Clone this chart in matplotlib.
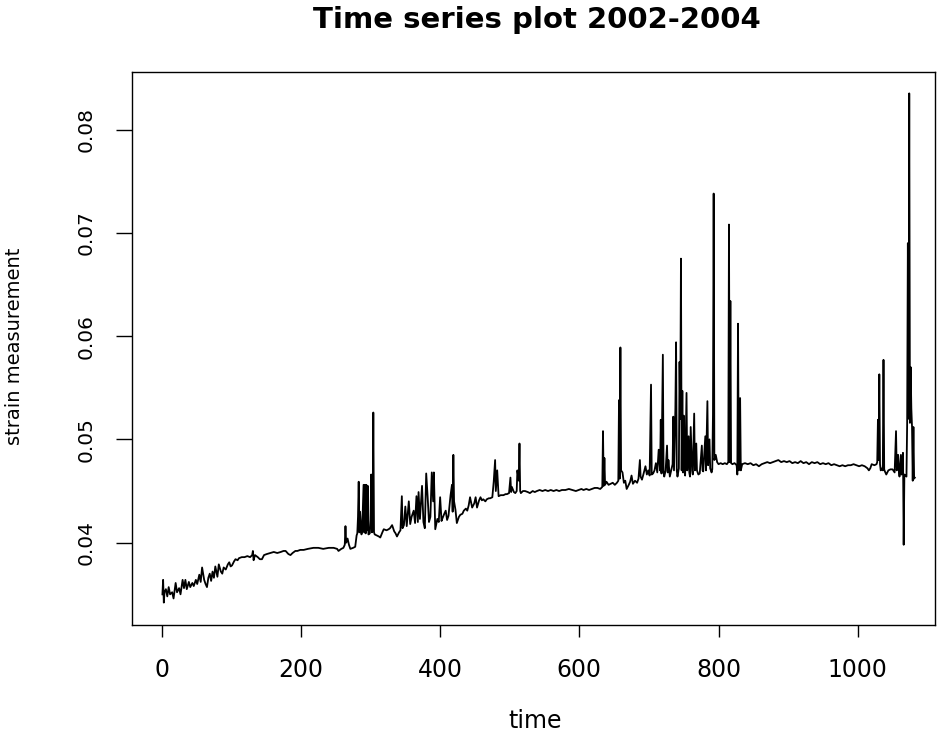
import numpy as np
import matplotlib
matplotlib.use("Agg")
import matplotlib.pyplot as plt

# values, split by stretch of the record

# 0 - 200: noisy start, slow rise
t_start = [1, 2, 3, 4, 6, 8, 10, 12, 15, 17, 20, 22, 25, 27, 30, 32, 34, 36,
           39, 41, 44, 46, 49, 51, 54, 56, 58, 61, 63, 65, 67, 69, 71, 73,
           75, 77, 80, 82, 85, 87, 89, 92, 95, 97, 99, 101, 104, 106, 109,
           111, 115, 119, 123, 127, 130, 131, 132, 134, 138, 141, 144, 147,
           151, 156, 161, 166, 171, 175, 178, 182, 185, 188, 192, 195, 199]
s_start = [0.0350, 0.0364, 0.0342, 0.0352, 0.0355, 0.0348, 0.0357, 0.0350,
           0.0352, 0.0346, 0.0361, 0.0352, 0.0356, 0.0350, 0.0364, 0.0356,
           0.0364, 0.0355, 0.0362, 0.0357, 0.0361, 0.0358, 0.0364, 0.0360,
           0.0369, 0.0362, 0.0376, 0.0364, 0.0360, 0.0357, 0.0366, 0.0370,
           0.0363, 0.0372, 0.0366, 0.0377, 0.0367, 0.0379, 0.0372, 0.0370,
           0.0376, 0.0374, 0.0379, 0.0381, 0.0377, 0.0378, 0.0382, 0.0384,
           0.0383, 0.0385, 0.0386, 0.0386, 0.0387, 0.0386, 0.0388, 0.0392,
           0.0383, 0.0388, 0.0386, 0.0384, 0.0384, 0.0388, 0.0389, 0.0390,
           0.0391, 0.0390, 0.0391, 0.0392, 0.0392, 0.0389, 0.0388, 0.0390,
           0.0392, 0.0392, 0.0393]

# 200 - 400: flat, then first burst of spikes
t_mid1 = [204, 210, 218, 225, 232, 240, 247, 252, 254, 258, 261, 263, 264,
          265, 267, 269, 271, 275, 278, 280, 281, 282, 283, 284, 285, 287,
          288, 290, 291, 292, 293, 294, 295, 296, 297, 299, 300, 301, 302,
          303, 304, 305, 306, 309, 312, 314, 317, 319, 323, 326, 328, 331,
          334, 336, 338, 341, 343, 345, 346, 348, 350, 352, 355, 357, 359,
          362, 364, 366, 368, 369, 371, 374, 376, 378, 380, 382, 384, 386,
          388, 390, 391, 393, 396, 398]
s_mid1 = [0.0393, 0.0394, 0.0395, 0.0395, 0.0394, 0.0395, 0.0395, 0.0394,
          0.0392, 0.0394, 0.0395, 0.0398, 0.0416, 0.0400, 0.0404, 0.0398,
          0.0394, 0.0395, 0.0396, 0.0407, 0.0409, 0.0425, 0.0459, 0.0410,
          0.0430, 0.0408, 0.0412, 0.0456, 0.0410, 0.0456, 0.0409, 0.0456,
          0.0412, 0.0455, 0.0408, 0.0409, 0.0422, 0.0466, 0.0410, 0.0412,
          0.0526, 0.0410, 0.0408, 0.0407, 0.0406, 0.0405, 0.0410, 0.0413,
          0.0412, 0.0413, 0.0414, 0.0417, 0.0411, 0.0409, 0.0406, 0.0410,
          0.0412, 0.0445, 0.0414, 0.0417, 0.0435, 0.0416, 0.0440, 0.0418,
          0.0425, 0.0431, 0.0419, 0.0445, 0.0420, 0.0449, 0.0423, 0.0455,
          0.0420, 0.0414, 0.0467, 0.0445, 0.0420, 0.0425, 0.0468, 0.0440,
          0.0468, 0.0413, 0.0423, 0.0420]

# 400 - 600: climb to the middle plateau
t_mid2 = [400, 402, 403, 406, 408, 410, 412, 415, 417, 418, 419, 420, 422,
          424, 427, 429, 432, 434, 437, 439, 441, 443, 446, 449, 451, 453,
          456, 458, 460, 462, 465, 467, 470, 472, 475, 477, 479, 480, 482,
          484, 487, 491, 494, 496, 499, 501, 502, 503, 506, 508, 510, 511,
          513, 514, 515, 516, 519, 522, 526, 529, 533, 536, 539, 543, 547,
          551, 555, 559, 563, 567, 571, 575, 580, 585, 590, 595, 599]
s_mid2 = [0.0444, 0.0421, 0.0423, 0.0428, 0.0431, 0.0422, 0.0426, 0.0446,
          0.0456, 0.0430, 0.0485, 0.0440, 0.0432, 0.0419, 0.0425, 0.0427,
          0.0428, 0.0431, 0.0433, 0.0431, 0.0436, 0.0444, 0.0434, 0.0438,
          0.0444, 0.0434, 0.0441, 0.0444, 0.0441, 0.0442, 0.0440, 0.0442,
          0.0443, 0.0443, 0.0444, 0.0459, 0.0480, 0.0450, 0.0470, 0.0445,
          0.0446, 0.0446, 0.0447, 0.0447, 0.0448, 0.0463, 0.0449, 0.0454,
          0.0449, 0.0448, 0.0450, 0.0470, 0.0460, 0.0496, 0.0450, 0.0448,
          0.0450, 0.0450, 0.0449, 0.0448, 0.0450, 0.0449, 0.0450, 0.0451,
          0.0450, 0.0451, 0.0450, 0.0451, 0.0450, 0.0451, 0.0450, 0.0451,
          0.0451, 0.0452, 0.0451, 0.0450, 0.0451]

# 600 - 835: big spike cluster
t_burst = [603, 606, 610, 614, 618, 622, 626, 630, 633, 634, 635, 636, 637,
           639, 642, 645, 648, 651, 654, 656, 657, 658, 659, 660, 662, 664,
           666, 668, 671, 673, 675, 677, 680, 683, 685, 687, 688, 690, 692,
           695, 697, 699, 701, 703, 704, 706, 708, 710, 712, 714, 716, 717,
           718, 720, 721, 722, 724, 726, 727, 728, 730, 732, 734, 735, 736,
           738, 739, 740, 741, 743, 744, 745, 746, 747, 748, 749, 750, 751,
           752, 754, 755, 757, 758, 759, 760, 762, 763, 765, 766, 768, 769,
           771, 773, 776, 777, 778, 781, 782, 784, 785, 787, 788, 790, 791,
           792, 793, 794, 796, 798, 800, 803, 806, 809, 812, 814, 815, 816,
           817, 818, 820, 823, 826, 827, 828, 829, 830, 831, 832, 834]
s_burst = [0.0452, 0.0451, 0.0452, 0.0451, 0.0452, 0.0453, 0.0453, 0.0452,
           0.0454, 0.0508, 0.0455, 0.0482, 0.0456, 0.0459, 0.0456, 0.0457,
           0.0458, 0.0456, 0.0458, 0.0460, 0.0538, 0.0462, 0.0589, 0.0470,
           0.0468, 0.0458, 0.0460, 0.0452, 0.0456, 0.0459, 0.0465, 0.0457,
           0.0460, 0.0458, 0.0462, 0.0480, 0.0464, 0.0461, 0.0466, 0.0474,
           0.0466, 0.0470, 0.0465, 0.0553, 0.0466, 0.0467, 0.0470, 0.0477,
           0.0468, 0.0490, 0.0470, 0.0519, 0.0467, 0.0582, 0.0468, 0.0464,
           0.0470, 0.0494, 0.0468, 0.0480, 0.0464, 0.0470, 0.0476, 0.0522,
           0.0470, 0.0530, 0.0594, 0.0470, 0.0464, 0.0472, 0.0575, 0.0520,
           0.0675, 0.0470, 0.0547, 0.0468, 0.0523, 0.0470, 0.0465, 0.0545,
           0.0470, 0.0503, 0.0468, 0.0464, 0.0512, 0.0470, 0.0466, 0.0525,
           0.0470, 0.0496, 0.0470, 0.0466, 0.0467, 0.0494, 0.0470, 0.0469,
           0.0503, 0.0470, 0.0537, 0.0475, 0.0500, 0.0472, 0.0468, 0.0471,
           0.0524, 0.0738, 0.0480, 0.0485, 0.0478, 0.0476, 0.0477, 0.0476,
           0.0477, 0.0476, 0.0478, 0.0708, 0.0478, 0.0634, 0.0477, 0.0476,
           0.0477, 0.0475, 0.0466, 0.0612, 0.0470, 0.0476, 0.0540, 0.0470,
           0.0476]

# 835 - end: flat top, spikes at the very end
t_end = [838, 842, 846, 850, 854, 858, 862, 866, 870, 874, 878, 882, 886,
         890, 894, 898, 902, 906, 910, 914, 918, 922, 926, 930, 934, 938,
         942, 946, 950, 954, 958, 962, 966, 970, 974, 978, 982, 986, 990,
         994, 998, 1002, 1006, 1010, 1014, 1016, 1018, 1020, 1024, 1027,
         1028, 1029, 1030, 1031, 1032, 1033, 1035, 1036, 1037, 1038, 1039,
         1041, 1044, 1047, 1050, 1053, 1055, 1056, 1057, 1058, 1059, 1060,
         1062, 1063, 1065, 1066, 1067, 1068, 1070, 1071, 1072, 1073, 1074,
         1075, 1076, 1077, 1078, 1079, 1080, 1081, 1082]
s_end = [0.0477, 0.0476, 0.0477, 0.0475, 0.0476, 0.0474, 0.0476, 0.0477,
         0.0478, 0.0477, 0.0478, 0.0479, 0.0480, 0.0478, 0.0479, 0.0478,
         0.0479, 0.0477, 0.0478, 0.0477, 0.0479, 0.0477, 0.0478, 0.0476,
         0.0478, 0.0477, 0.0478, 0.0476, 0.0477, 0.0476, 0.0477, 0.0475,
         0.0476, 0.0475, 0.0474, 0.0475, 0.0474, 0.0475, 0.0475, 0.0476,
         0.0475, 0.0474, 0.0475, 0.0474, 0.0472, 0.0470, 0.0472, 0.0476,
         0.0475, 0.0476, 0.0478, 0.0519, 0.0480, 0.0563, 0.0476, 0.0470,
         0.0472, 0.0470, 0.0577, 0.0471, 0.0469, 0.0466, 0.0470, 0.0471,
         0.0471, 0.0468, 0.0508, 0.0470, 0.0476, 0.0485, 0.0470, 0.0464,
         0.0485, 0.0466, 0.0487, 0.0398, 0.0466, 0.0465, 0.0464, 0.0516,
         0.0690, 0.0520, 0.0835, 0.0516, 0.0570, 0.0530, 0.0512, 0.0460,
         0.0512, 0.0462, 0.0463]

x_ticks = [0, 200, 400, 600, 800, 1000]
y_ticks = [0.04, 0.05, 0.06, 0.07, 0.08]


def main():
    time = np.concatenate([t_start, t_mid1, t_mid2, t_burst, t_end])
    strain = np.concatenate([s_start, s_mid1, s_mid2, s_burst, s_end])

    fig = plt.figure(figsize=(9.46, 7.35), dpi=100)
    # frame placed where the reference has it (R base graphics look)
    ax = fig.add_axes([132 / 946, 110 / 735, 803 / 946, 553 / 735])

    ax.plot(time, strain, color="black", lw=1.3)

    ax.set_xlim(-42.7, 1111)
    ax.set_ylim(0.03203, 0.08557)

    ax.set_xticks(x_ticks)
    ax.set_xticklabels([str(v) for v in x_ticks])
    ax.set_yticks(y_ticks)
    ax.set_yticklabels([f"{v:.2f}" for v in y_ticks])

    ax.tick_params(axis="x", length=8.6, width=1.0, pad=15, labelsize=17)
    ax.tick_params(axis="y", length=11.5, width=1.0, pad=15, labelsize=14.5)
    plt.setp(ax.get_yticklabels(), rotation=90, va="center")

    for sp in ax.spines.values():
        sp.set_linewidth(1.0)
        sp.set_color("black")

    fig.text(537 / 946, 1 - 20 / 735, "Time series plot 2002-2004",
             ha="center", va="center", fontsize=21, fontweight="bold")
    fig.text(535 / 946, 1 - 721 / 735, "time", ha="center", va="center",
             fontsize=17)
    fig.text(15 / 946, 1 - 346 / 735, "strain measurement", ha="center",
             va="center", rotation=90, fontsize=14)

    fig.savefig("out.png", dpi=100)
    plt.close(fig)


if __name__ == "__main__":
    main()
